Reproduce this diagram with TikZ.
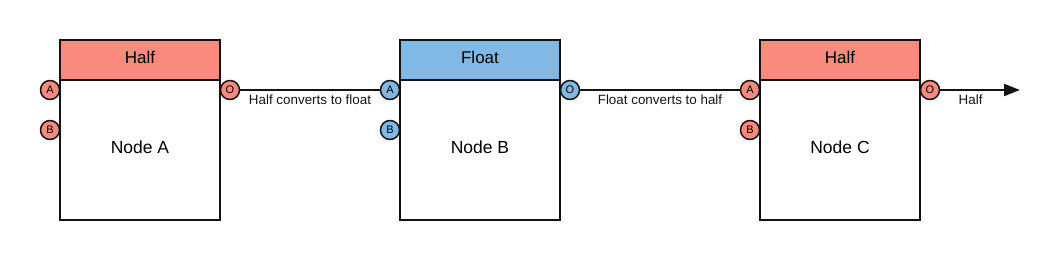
\documentclass[tikz,border=0pt]{standalone}
\usepackage{fontspec}
\setmainfont{Liberation Sans}
\usetikzlibrary{arrows.meta,positioning}
\definecolor{halfred}{RGB}{250,138,126}
\definecolor{floatblue}{RGB}{130,185,228}
\definecolor{linegray}{RGB}{20,20,20}

\begin{document}
\begin{tikzpicture}[
  x=1pt, y=-1pt,
  node distance=0pt,
  head/.style={draw=linegray, line width=2pt, outer sep=0pt, minimum width=160pt, minimum height=40pt, inner sep=0pt, text depth=5pt, font=\fontsize{17}{17}\selectfont},
  body/.style={draw=linegray, line width=2pt, outer sep=0pt, fill=white, minimum width=160pt, minimum height=140pt, inner sep=0pt, text depth=6pt, font=\fontsize{17.5}{17.5}\selectfont},
  port/.style={circle, draw=linegray, line width=1.5pt, minimum size=19pt, inner sep=0pt, font=\fontsize{11}{11}\selectfont},
  wire/.style={line width=2pt, linegray},
  tag/.style={below=3pt, font=\fontsize{13.4}{13.4}\selectfont, inner sep=1pt},
  arrow/.style={-{Triangle[length=16pt, width=12pt]}, line width=2pt, linegray}
]
  \useasboundingbox (0,0) rectangle (1057,252);
  % boxes
  \node[head, fill=halfred] (headA) at (140,60) {Half};
  \node[body, below=of headA] (nodeA) {Node A};
  \node[head, fill=floatblue] (headB) at (480,60) {Float};
  \node[body, below=of headB] (nodeB) {Node B};
  \node[head, fill=halfred] (headC) at (840,60) {Half};
  \node[body, below=of headC] (nodeC) {Node C};
  % ports
  \node[port, fill=halfred] (inAa) at ([shift={(-10,10)}]nodeA.north west) {A};
  \node[port, fill=halfred] (inAb) at ([shift={(-10,50)}]nodeA.north west) {B};
  \node[port, fill=halfred] (outA) at ([shift={(10,10)}]nodeA.north east) {O};
  \node[port, fill=floatblue] (inBa) at ([shift={(-10,10)}]nodeB.north west) {A};
  \node[port, fill=floatblue] (inBb) at ([shift={(-10,50)}]nodeB.north west) {B};
  \node[port, fill=floatblue] (outB) at ([shift={(10,10)}]nodeB.north east) {O};
  \node[port, fill=halfred] (inCa) at ([shift={(-10,10)}]nodeC.north west) {A};
  \node[port, fill=halfred] (inCb) at ([shift={(-10,50)}]nodeC.north west) {B};
  \node[port, fill=halfred] (outC) at ([shift={(10,10)}]nodeC.north east) {O};
  \coordinate (sink) at (1020,90);
  % connections
  \draw[wire] (outA) -- node[tag] {Half converts to float} (inBa);
  \draw[wire] (outB) -- node[tag] {Float converts to half} (inCa);
  \draw[arrow] (outC) -- node[tag, pos=0.38] {Half} (sink);
\end{tikzpicture}
\end{document}
